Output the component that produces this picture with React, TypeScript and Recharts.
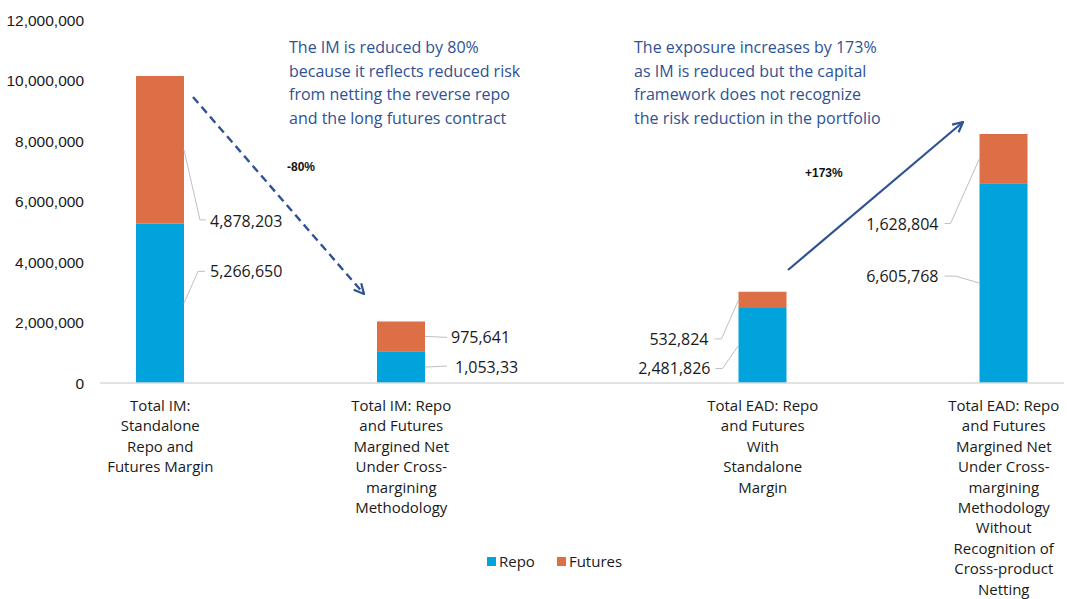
import React from 'react';
import { BarChart, Bar, XAxis, YAxis, Legend, LabelList, Customized } from 'recharts';

// one entry per bar, left to right
const categoryLines = [
  ['Total IM:', 'Standalone', 'Repo and', 'Futures Margin'],
  ['Total IM: Repo', 'and Futures', 'Margined Net', 'Under Cross-', 'margining', 'Methodology'],
  ['Total EAD: Repo', 'and Futures', 'With', 'Standalone', 'Margin'],
  ['Total EAD: Repo', 'and Futures', 'Margined Net', 'Under Cross-', 'margining', 'Methodology', 'Without', 'Recognition of', 'Cross-product', 'Netting'],
];
const repoValues = [5266650, 1053330, 2481826, 6605768];
const futuresValues = [4878203, 975641, 532824, 1628804];
const repoLabels = ['5,266,650', '1,053,33', '2,481,826', '6,605,768'];
const futuresLabels = ['4,878,203', '975,641', '532,824', '1,628,804'];
const yTicks = [0, 2000000, 4000000, 6000000, 8000000, 10000000, 12000000];
// which axis slot each bar sits in (the other slots are empty gaps)
const barSlots = [0, 2, 5, 7];
const slotCount = 8;
const seriesOrder = ['Repo', 'Futures'];

const noteLeft = [
  'The IM is reduced by 80%',
  'because it reflects reduced risk',
  'from netting the reverse repo',
  'and the long futures contract',
];
const noteRight = [
  'The exposure increases by 173%',
  'as IM is reduced but the capital',
  'framework does not recognize',
  'the risk reduction in the portfolio',
];

const data = Array.from({ length: slotCount }, (_, i) => {
  const k = barSlots.indexOf(i);
  if (k < 0) return { slot: `gap${i}`, idx: -1 };
  return { slot: `bar${k}`, idx: k, Repo: repoValues[k], Futures: futuresValues[k] };
});

const REPO = '#00a3dc';
const FUT = '#dd6f46';
const NAVY = '#2f5293';
const BODY_FONT = '"Open Sans", sans-serif';

// leader line elbows and text position, relative to the middle of the segment edge
type Leader = { p1: [number, number]; p2: [number, number]; t: [number, number]; left: boolean };
const repoLeaders: Leader[] = [
  { p1: [14, -32], p2: [21, -32], t: [26, -32], left: false },
  { p1: [22, -1], p2: [22, -1], t: [30, 0], left: false },
  { p1: [-16, 23], p2: [-23, 23], t: [-28, 23], left: true },
  { p1: [-24, -7], p2: [-35, -7], t: [-41, -7], left: true },
];
const futLeaders: Leader[] = [
  { p1: [16, 70], p2: [22, 70], t: [26, 71], left: false },
  { p1: [22, 1], p2: [22, 1], t: [26, 1], left: false },
  { p1: [-17, 39], p2: [-24, 39], t: [-30, 39], left: true },
  { p1: [-29, 65], p2: [-35, 65], t: [-41, 65], left: true },
];

const makeLabel = (leaders: Leader[], texts: string[]) => (props: any) => {
  const { x, y, width, height, value } = props;
  const k = Number(value);
  if (!(k >= 0) || height == null) return null;
  const L = leaders[k];
  const ax = L.left ? Number(x) : Number(x) + Number(width);
  const ay = Number(y) + Number(height) / 2;
  return (
    <g>
      <polyline
        points={`${ax},${ay} ${ax + L.p1[0]},${ay + L.p1[1]} ${ax + L.p2[0]},${ay + L.p2[1]}`}
        fill="none"
        stroke="#bfbfbf"
        strokeWidth={1}
      />
      <text
        x={ax + L.t[0]}
        y={ay + L.t[1]}
        textAnchor={L.left ? 'end' : 'start'}
        dominantBaseline="central"
        fontSize={16}
        fontFamily={BODY_FONT}
        fill="#1a1a1a"
      >
        {texts[k]}
      </text>
    </g>
  );
};

const CategoryTick = (props: any) => {
  const { x, y, payload } = props;
  const v = String(payload.value);
  if (!v.startsWith('bar')) return null;
  const lines = categoryLines[Number(v.slice(3))];
  return (
    <g>
      {lines.map((line, i) => (
        <text
          key={i}
          x={x}
          y={y + 14 + i * 20.4}
          textAnchor="middle"
          dominantBaseline="central"
          fontSize={15}
          fontFamily={BODY_FONT}
          fill="#1a1a1a"
        >
          {line}
        </text>
      ))}
    </g>
  );
};

const Annotations = () => (
  <g>
    <defs>
      <marker id="head" viewBox="0 0 12 12" refX="11" refY="6" markerWidth="12" markerHeight="12" markerUnits="userSpaceOnUse" orient="auto">
        <path d="M1,1 L11,6 L1,11" fill="none" stroke={NAVY} strokeWidth={2.2} />
      </marker>
    </defs>
    {noteLeft.map((t, i) => (
      <text key={`l${i}`} x={289} y={47 + i * 23.7} dominantBaseline="central" fontSize={16} fontFamily={BODY_FONT} fill={NAVY}>
        {t}
      </text>
    ))}
    {noteRight.map((t, i) => (
      <text key={`r${i}`} x={634} y={47 + i * 23.7} dominantBaseline="central" fontSize={16} fontFamily={BODY_FONT} fill={NAVY}>
        {t}
      </text>
    ))}
    <line x1={193} y1={97} x2={364} y2={294} stroke={NAVY} strokeWidth={2.4} strokeDasharray="8 5" markerEnd="url(#head)" />
    <line x1={788} y1={270} x2={963} y2={122} stroke={NAVY} strokeWidth={2.2} markerEnd="url(#head)" />
    <text x={287} y={167} dominantBaseline="central" fontSize={12} fontWeight="bold" fontFamily="Liberation Sans, Arial, sans-serif" fill="#111">
      -80%
    </text>
    <text x={805} y={173} dominantBaseline="central" fontSize={12} fontWeight="bold" fontFamily="Liberation Sans, Arial, sans-serif" fill="#111">
      +173%
    </text>
  </g>
);

const renderLegend = (props: any) => {
  const items = [...(props.payload || [])].sort(
    (a: any, b: any) => seriesOrder.indexOf(a.value) - seriesOrder.indexOf(b.value)
  );
  return (
    <div style={{ display: 'flex', alignItems: 'center', fontFamily: BODY_FONT, fontSize: 15, color: '#1a1a1a' }}>
      {items.map((entry: any, i: number) => (
        <div key={i} style={{ display: 'flex', alignItems: 'center', marginRight: 22 }}>
          <span style={{ width: 9, height: 9, background: entry.color, display: 'inline-block', marginRight: 3 }} />
          <span>{entry.value}</span>
        </div>
      ))}
    </div>
  );
};

export default function App() {
  return (
    <div style={{ position: 'absolute', left: 0, top: 0, width: 1067, height: 599, background: '#fff' }}>
      <BarChart width={1067} height={599} data={data} margin={{ top: 20, right: 3, bottom: 0, left: 0 }}>
        <XAxis
          dataKey="slot"
          axisLine={{ stroke: '#d9d9d9', strokeWidth: 1.5 }}
          tickLine={false}
          interval={0}
          height={216}
          tick={<CategoryTick />}
        />
        <YAxis
          domain={[0, 12000000]}
          ticks={yTicks}
          interval={0}
          width={100}
          axisLine={false}
          tickLine={false}
          tickMargin={10}
          tickFormatter={(v: number) => v.toLocaleString('en-US')}
          tick={{ fontSize: 15.5, fill: '#1a1a1a', fontFamily: 'Liberation Sans, Arial, sans-serif' }}
        />
        <Legend
          verticalAlign="middle"
          align="center"
          content={renderLegend}
          wrapperStyle={{ top: 551, left: 487, width: 220 }}
        />
        <Bar dataKey="Repo" name="Repo" stackId="a" fill={REPO} barSize={48} isAnimationActive={false}>
          <LabelList dataKey="idx" content={makeLabel(repoLeaders, repoLabels)} />
        </Bar>
        <Bar dataKey="Futures" name="Futures" stackId="a" fill={FUT} barSize={48} isAnimationActive={false}>
          <LabelList dataKey="idx" content={makeLabel(futLeaders, futuresLabels)} />
        </Bar>
        <Customized component={Annotations} />
      </BarChart>
    </div>
  );
}
